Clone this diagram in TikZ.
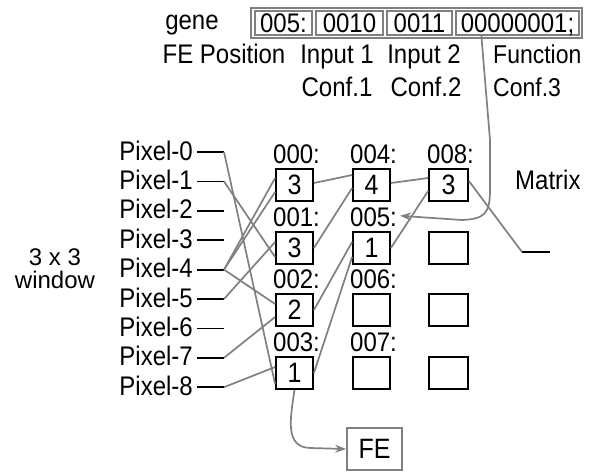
\documentclass[tikz,border=0pt]{standalone}
\usepackage{fontspec}
\usepackage{graphicx}
\setmainfont{Liberation Sans}
\usetikzlibrary{arrows.meta,calc}
\definecolor{gcol}{RGB}{128,128,128}
\newcommand{\vt}[1]{\scalebox{1}[1.12]{#1}}
\begin{document}
\begin{tikzpicture}[x=1pt,y=-1pt,
 txt/.style={inner sep=0pt, font=\fontsize{24}{28}\selectfont},
 cellbox/.style={draw=black, line width=1.8pt, minimum width=37pt, minimum height=32pt, inner sep=0pt, font=\fontsize{25}{28}\selectfont, text height=19.5pt, text depth=0pt},
 genecell/.style={draw=gcol, line width=1.3pt, minimum height=24pt, inner sep=0pt, font=\fontsize{24}{28}\selectfont, text height=19pt, text depth=0pt},
 wire/.style={draw=gcol, line width=1.7pt},
 pinline/.style={draw=black, line width=1.8pt},
 arr/.style={draw=gcol, line width=1.7pt, -{Stealth[length=11pt,width=8pt]}}
]
\useasboundingbox[fill=white] (0,0) rectangle (595,472);

% gene
\node[txt, anchor=base] (gene) at (192,29) {\vt{gene}};
\node[draw=gcol, line width=1.6pt, minimum width=331pt, minimum height=30pt, inner sep=0pt] (gbox) at (416.5,23) {};
\node[genecell, minimum width=57pt] (g1) at (283.5,23) {\vt{005:}};
\node[genecell, minimum width=67pt] (g2) at (349.5,23) {\vt{0010}};
\node[genecell, minimum width=65pt] (g3) at (419.5,23) {\vt{0011}};
\node[genecell, minimum width=123pt] (g4) at (517.5,23) {\vt{00000001;}};

\node[txt, anchor=base] (fep) at (224,63) {\vt{FE Position}};
\node[txt, anchor=base] (in1) at (337,63) {\vt{Input 1}};
\node[txt, anchor=base] (in2) at (424,63) {\vt{Input 2}};
\node[txt, anchor=base west, font=\fontsize{23}{28}\selectfont] (fun) at (493,63) {\vt{Function}};
\node[txt, anchor=base] (c1) at (337,96) {\vt{Conf.1}};
\node[txt, anchor=base] (c2) at (426,96) {\vt{Conf.2}};
\node[txt, anchor=base west, font=\fontsize{23}{28}\selectfont] (c3) at (493,96) {\vt{Conf.3}};

% window
\node[txt, anchor=base, align=center, font=\fontsize{24}{22.5}\selectfont] (win) at (55,288) {3 x 3\\window};

% pixels
\foreach \i in {0,...,8} {
  \pgfmathsetmacro{\yy}{152+29.4*\i}
  \node[txt, anchor=base east] (pl\i) at (193,\yy+8) {\vt{Pixel-\i}};
  \coordinate (ps\i) at (197,\yy);
  \coordinate (p\i) at (224,\yy);
  \draw[pinline] (ps\i) -- (p\i);
}

% matrix boxes
\node[cellbox] (b00) at (294.5,185) {\vt{3}};
\node[cellbox] (b01) at (294.5,248) {\vt{3}};
\node[cellbox] (b02) at (294.5,310) {\vt{2}};
\node[cellbox] (b03) at (294.5,373) {\vt{1}};
\node[cellbox] (b10) at (371.5,185) {\vt{4}};
\node[cellbox] (b11) at (371.5,248) {\vt{1}};
\node[cellbox] (b12) at (371.5,310) {};
\node[cellbox] (b13) at (371.5,373) {};
\node[cellbox, minimum width=39pt] (b20) at (448.5,185) {\vt{3}};
\node[cellbox, minimum width=39pt] (b21) at (448.5,248) {};
\node[cellbox, minimum width=39pt] (b22) at (448.5,310) {};
\node[cellbox, minimum width=39pt] (b23) at (448.5,373) {};

\node[txt, anchor=base west] (l00) at (273,163) {\vt{000:}};
\node[txt, anchor=base west] (l01) at (273,226) {\vt{001:}};
\node[txt, anchor=base west] (l02) at (273,288) {\vt{002:}};
\node[txt, anchor=base west] (l03) at (273,351) {\vt{003:}};
\node[txt, anchor=base west] (l10) at (350,163) {\vt{004:}};
\node[txt, anchor=base west] (l11) at (350,226) {\vt{005:}};
\node[txt, anchor=base west] (l12) at (350,288) {\vt{006:}};
\node[txt, anchor=base west] (l13) at (350,351) {\vt{007:}};
\node[txt, anchor=base west] (l20) at (427,163) {\vt{008:}};

\node[txt, anchor=base west] (mat) at (515,189) {\vt{Matrix}};

% FE
\node[draw=gcol, line width=1.8pt, minimum width=55pt, minimum height=42pt, inner sep=0pt, font=\fontsize{25}{28}\selectfont] (fe) at (374.5,449) {\vt{FE}};

% wires pixels -> column 1
\draw[wire] (p0) -- ([yshift=-11pt]b03.west);
\draw[wire] (p1) -- ([yshift=-9pt]b01.west);
\draw[wire] (p4) -- ([yshift=7pt]b00.west);
\draw[wire] (p4) -- ([yshift=-7pt]b00.west);
\draw[wire] (p4) -- ([yshift=6pt]b02.west);
\draw[wire] (p5) -- ([yshift=6pt]b01.west);
\draw[wire] (p7) -- ([yshift=-7pt]b02.west);
\draw[wire] (p8) -- ([yshift=6pt]b03.west);
% column 1 -> column 2
\draw[wire] ([yshift=2pt]b00.east) -- ([yshift=10pt]b10.west);
\draw[wire] (b01.east) -- ([yshift=-3pt]b10.west);
\draw[wire] (b02.east) -- ([yshift=6pt]b11.west);
\draw[wire] (b03.east) -- ([yshift=-9pt]b11.west);
% column 2 -> column 3
\draw[wire] ([yshift=2pt]b10.east) -- ([yshift=7pt]b20.west);
\draw[wire] (b11.east) -- ([yshift=-6pt]b20.west);
% output
\coordinate (o1) at (522,252);
\coordinate (o2) at (550,252);
\draw[wire] ([yshift=4pt]b20.east) -- (o1);
\draw[pinline] (o1) -- (o2);

% function -> 005 arrow
\coordinate (fstart) at ([xshift=26pt]g4.south west);
\draw[arr] (fstart) -- (490,140) -- (490,190) .. controls (490,214) and (484,219) .. (462,220) -- ([xshift=3pt,yshift=1pt]l11.east);

% FE arrow
\draw[arr] (b03.south) .. controls (290,420) and (285,447) .. (310,448) -- (fe.west);
\end{tikzpicture}
\end{document}
